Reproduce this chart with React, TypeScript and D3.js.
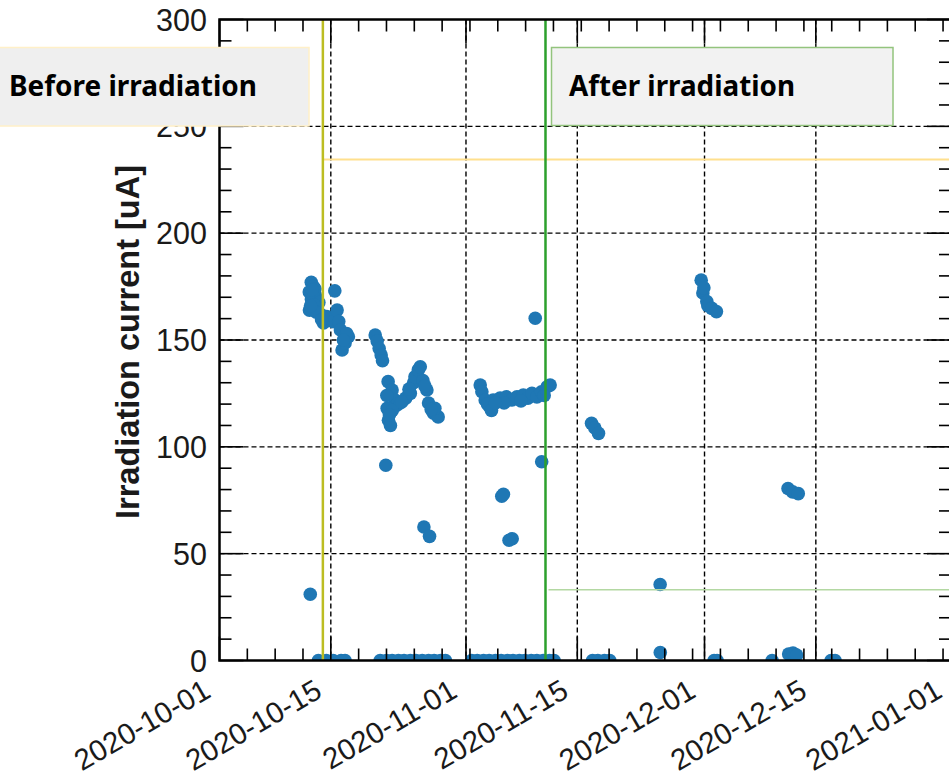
import React from "react";
import * as d3 from "d3";

const W = 949;
const H = 781;

const xDomain = ["2020-10-01 00:00", "2021-01-01 00:00"];
const yDomain = [0, 300];
const xMajorTicks = ["2020-10-01", "2020-10-15", "2020-11-01", "2020-11-15", "2020-12-01", "2020-12-15", "2021-01-01"];
const yMajorTicks = [0, 50, 100, 150, 200, 250, 300];

// beam-off readings (0 uA)
const zeroTimes = [
  "2020-10-13 10:30", "2020-10-14 10:30", "2020-10-15 07:00", "2020-10-16 07:00", "2020-10-16 19:00",
  "2020-10-21 05:00", "2020-10-22 00:00", "2020-10-22 17:00", "2020-10-23 12:00", "2020-10-24 05:00",
  "2020-10-25 00:00", "2020-10-25 17:00", "2020-10-26 12:00", "2020-10-27 07:00", "2020-10-28 00:00",
  "2020-10-28 19:00", "2020-10-29 10:00",
  "2020-11-01 17:00", "2020-11-02 10:00", "2020-11-03 05:00", "2020-11-03 22:00", "2020-11-04 17:00",
  "2020-11-05 10:00", "2020-11-06 05:00", "2020-11-06 22:00", "2020-11-07 17:00", "2020-11-08 10:00",
  "2020-11-09 05:00", "2020-11-09 22:00", "2020-11-10 17:00", "2020-11-11 12:00", "2020-11-12 02:00",
  "2020-11-16 22:00", "2020-11-17 14:00", "2020-11-18 10:00", "2020-11-19 02:00",
  "2020-12-02 05:00", "2020-12-02 14:00", "2020-12-09 12:00", "2020-12-16 22:00", "2020-12-17 10:00",
];

// first run, around mid October
const runOctTimes = [
  "2020-10-12 10:00", "2020-10-12 13:00", "2020-10-12 19:00", "2020-10-12 07:00", "2020-10-13 01:30",
  "2020-10-12 13:30", "2020-10-13 07:00", "2020-10-12 07:30", "2020-10-13 17:00", "2020-10-14 02:00",
  "2020-10-13 00:00", "2020-10-12 17:00", "2020-10-13 12:00", "2020-10-14 05:00", "2020-10-14 12:00",
  "2020-10-15 07:00", "2020-10-15 12:00", "2020-10-15 19:00", "2020-10-16 00:00", "2020-10-16 05:00",
  "2020-10-17 05:00", "2020-10-16 10:00", "2020-10-16 19:00", "2020-10-17 00:00", "2020-10-16 14:00",
  "2020-10-12 16:00", "2020-10-12 22:00", "2020-10-13 04:00", "2020-10-12 11:00", "2020-10-13 20:00",
];
const runOctValues = [
  31, 177, 175, 172.5, 171,
  169, 166, 164, 162, 158,
  174, 171.5, 167.5, 161, 161,
  158.6, 173, 164, 158.6, 154.7,
  151.5, 145.3, 148.6, 153, 150,
  173.5, 166.5, 163, 166, 159.5,
];

// late October run
const runLateOctTimes = [
  "2020-10-20 14:00", "2020-10-20 20:00", "2020-10-21 02:00", "2020-10-21 08:00", "2020-10-21 12:00",
  "2020-10-22 05:00", "2020-10-22 17:00", "2020-10-23 02:00", "2020-10-23 07:00", "2020-10-22 02:00",
  "2020-10-22 06:00", "2020-10-22 12:00", "2020-10-21 22:00", "2020-10-23 17:00", "2020-10-24 10:00",
  "2020-10-25 00:00", "2020-10-25 10:00", "2020-10-25 14:00", "2020-10-26 00:00", "2020-10-26 06:00",
  "2020-10-26 14:00", "2020-10-27 02:00", "2020-10-27 07:00", "2020-10-27 22:00", "2020-10-28 12:00",
  "2020-10-28 02:00", "2020-10-26 17:00", "2020-10-27 10:00", "2020-10-22 01:00", "2020-10-22 17:30",
  "2020-10-22 09:00", "2020-10-23 22:00", "2020-10-24 20:00", "2020-10-26 20:00", "2020-10-27 15:00",
];
const runLateOctValues = [
  152.3, 149.5, 146, 143, 140.3,
  130.5, 126.6, 121.9, 119.5, 118,
  112.5, 110, 91.4, 120.5, 122.8,
  125, 130, 132.8, 136, 137.5,
  131, 126.6, 120.5, 115.8, 114,
  118, 62.5, 58.1, 124, 117,
  115, 121, 127, 128.5, 117.5,
];

// November run up to the end of irradiation
const runNovTimes = [
  "2020-11-02 19:00", "2020-11-03 00:00", "2020-11-03 10:00", "2020-11-04 00:00", "2020-11-04 10:00",
  "2020-11-05 07:00", "2020-11-06 02:00", "2020-11-06 19:00", "2020-11-07 10:00", "2020-11-08 05:00",
  "2020-11-08 19:00", "2020-11-09 07:00", "2020-11-09 22:00", "2020-11-10 12:00", "2020-11-11 05:00",
  "2020-11-11 14:00", "2020-11-03 17:00", "2020-11-04 05:00", "2020-11-05 19:00", "2020-11-07 22:00",
  "2020-11-09 17:00", "2020-11-05 12:00", "2020-11-05 17:00", "2020-11-06 19:30", "2020-11-06 10:00",
  "2020-11-10 12:30", "2020-11-04 17:00", "2020-11-10 20:00",
];
const runNovValues = [
  128.9, 125.8, 121.9, 118.7, 121.9,
  122.8, 123.4, 121.9, 123.4, 124.2,
  122.8, 125, 123.4, 125.8, 128.1,
  128.9, 120, 117, 120.5, 121.5,
  160.2, 76.9, 77.8, 57, 56.3,
  93, 120.5, 124,
];

// after irradiation
const afterTimes = [
  "2020-11-16 19:00", "2020-11-17 05:00", "2020-11-17 16:00", "2020-11-25 10:00", "2020-11-25 10:30",
  "2020-11-30 14:00", "2020-11-30 19:00", "2020-11-30 22:00", "2020-12-01 07:00", "2020-12-01 10:00",
  "2020-12-01 22:00", "2020-12-02 12:00", "2020-12-11 12:00", "2020-12-12 02:00", "2020-12-12 19:00",
  "2020-12-11 14:00", "2020-12-12 03:00", "2020-12-12 14:00",
];
const afterValues = [
  111, 108.8, 106.3, 35.6, 3.75,
  178, 172, 174.4, 168, 166,
  164.8, 163.3, 80.5, 78.9, 78.1,
  3, 3.5, 2.5,
];

const phaseMarkerTimes = ["2020-10-14 00:00", "2020-11-11 00:00"];
const phaseLevelValues = [234.5, 33.1];
const phaseLabels = ["Before irradiation", "After irradiation"];

const parse = d3.timeParse("%Y-%m-%d %H:%M");
const parseDay = d3.timeParse("%Y-%m-%d");

const L = 219.5, R = 951, T = 19.5, B = 660.5;

export default function App() {
  const x = d3.scaleTime().domain(xDomain.map((s) => parse(s)!)).range([L, R]);
  const y = d3.scaleLinear().domain(yDomain).range([B, T]);

  const points: { t: Date; v: number }[] = [];
  zeroTimes.forEach((t) => points.push({ t: parse(t)!, v: 0 }));
  const add = (ts: string[], vs: number[]) => ts.forEach((t, i) => points.push({ t: parse(t)!, v: vs[i] }));
  add(runOctTimes, runOctValues);
  add(runLateOctTimes, runLateOctValues);
  add(runNovTimes, runNovValues);
  add(afterTimes, afterValues);

  const start = parse(xDomain[0])!;
  const majorDates = xMajorTicks.map((s) => parseDay(s)!);
  const majorMs = new Set(majorDates.map((d) => d.getTime()));
  const minorDates = d3
    .range(0, 93, 3.5)
    .map((d) => d3.timeHour.offset(start, Math.round(d * 24)))
    .filter((d) => !majorMs.has(d.getTime()) && x(d) <= R);
  const yMinor = d3.range(0, 301, 10).filter((v) => v % 50 !== 0);

  const font = "'Liberation Sans', Arial, Helvetica, sans-serif";
  const majorLen = 24;
  const minorLen = 12;

  const markerX = phaseMarkerTimes.map((s) => x(parse(s)!));

  return (
    <svg width={W} height={H} style={{ position: "absolute", left: 0, top: 0, background: "#fff" }}>
      <defs>
        <clipPath id="plotClip">
          <rect x={L} y={T} width={R - L} height={B - T} />
        </clipPath>
      </defs>
      {/* grid */}
      <g stroke="#000" strokeWidth={1.4} strokeDasharray="5,3">
        {majorDates.slice(1, -1).map((d, i) => (
          <line key={"gx" + i} x1={x(d)} x2={x(d)} y1={T} y2={B} />
        ))}
        {yMajorTicks.slice(1, -1).map((v, i) => (
          <line key={"gy" + i} x1={L} x2={R} y1={y(v)} y2={y(v)} />
        ))}
      </g>
      {/* points */}
      <g clipPath="url(#plotClip)">
        {points.map((p, i) => (
          <circle key={i} cx={x(p.t)} cy={y(p.v)} r={6.8} fill="#1f77b4" />
        ))}
      </g>
      {/* phase markers */}
      <line x1={markerX[0]} x2={R} y1={y(phaseLevelValues[0])} y2={y(phaseLevelValues[0])} stroke="#ffe08e" strokeWidth={2} />
      <line x1={markerX[1] + 3} x2={R} y1={y(phaseLevelValues[1])} y2={y(phaseLevelValues[1])} stroke="#b3d8a2" strokeWidth={1.6} />
      <line x1={markerX[0]} x2={markerX[0]} y1={T} y2={B} stroke="#bcbd22" strokeWidth={2.5} />
      <line x1={markerX[1]} x2={markerX[1]} y1={T} y2={B} stroke="#2ca02c" strokeWidth={2.5} />
      {/* ticks */}
      <g stroke="#000" strokeWidth={1.6}>
        {majorDates.map((d, i) => (
          <g key={"mx" + i}>
            <line x1={x(d)} x2={x(d)} y1={B} y2={B - majorLen} />
            <line x1={x(d)} x2={x(d)} y1={T} y2={T + majorLen} />
          </g>
        ))}
        {minorDates.map((d, i) => (
          <g key={"nx" + i}>
            <line x1={x(d)} x2={x(d)} y1={B} y2={B - minorLen} />
            <line x1={x(d)} x2={x(d)} y1={T} y2={T + minorLen} />
          </g>
        ))}
        {yMajorTicks.map((v, i) => (
          <g key={"my" + i}>
            <line x1={L} x2={L + majorLen} y1={y(v)} y2={y(v)} />
            <line x1={R} x2={R - majorLen} y1={y(v)} y2={y(v)} />
          </g>
        ))}
        {yMinor.map((v, i) => (
          <g key={"ny" + i}>
            <line x1={L} x2={L + minorLen} y1={y(v)} y2={y(v)} />
            <line x1={R} x2={R - minorLen} y1={y(v)} y2={y(v)} />
          </g>
        ))}
      </g>
      {/* spines */}
      <rect x={L} y={T} width={R - L} height={B - T} fill="none" stroke="#000" strokeWidth={2.5} />
      {/* tick labels */}
      <g fontFamily={font} fill="#1a1a1a">
        {yMajorTicks.map((v, i) => (
          <text key={"ly" + i} x={207} y={y(v)} textAnchor="end" dominantBaseline="central" fontSize={30.5}>
            {v}
          </text>
        ))}
        {majorDates.map((d, i) => (
          <text key={"lx" + i} transform={`translate(${x(d) - 7},${696}) rotate(-30)`} textAnchor="end" fontSize={29.5}>
            {xMajorTicks[i]}
          </text>
        ))}
      </g>
      <text
        transform={`translate(139,342) rotate(-90)`}
        textAnchor="middle"
        fontFamily={font}
        fontWeight="bold"
        fontSize={32.5}
        fill="#1a1a1a"
      >
        Irradiation current [uA]
      </text>
      {/* annotation boxes */}
      <rect x={-3} y={47.5} width={312} height={78.5} fill="#efefef" stroke="#fff0c8" strokeWidth={1.5} />
      <text x={9} y={96} fontFamily="'Noto Sans', 'Open Sans', sans-serif" fontWeight="bold" fontSize={29} textLength={248} lengthAdjust="spacingAndGlyphs" fill="#000">
        {phaseLabels[0]}
      </text>
      <rect x={551.5} y={47.5} width={341.5} height={78} fill="#f2f2f2" stroke="#93c47d" strokeWidth={1.5} />
      <text x={569} y={96} fontFamily="'Noto Sans', 'Open Sans', sans-serif" fontWeight="bold" fontSize={29} textLength={226} lengthAdjust="spacingAndGlyphs" fill="#000">
        {phaseLabels[1]}
      </text>
    </svg>
  );
}
